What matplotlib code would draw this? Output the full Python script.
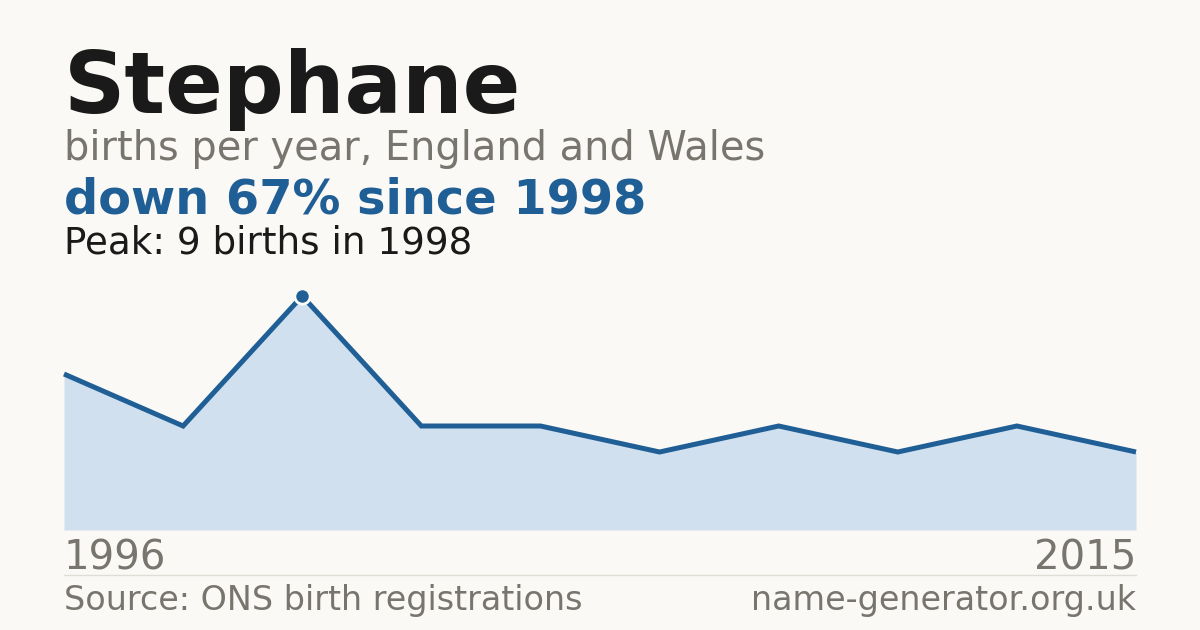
import matplotlib
matplotlib.use("Agg")
import matplotlib.pyplot as plt
import numpy as np

years = [1996, 1997, 1998, 1999, 2001, 2004, 2006, 2009, 2012, 2015]
births = [6, 4, 9, 4, 4, 3, 4, 3, 4, 3]

name = "Stephane"
subtitle = "births per year, England and Wales"
change_text = "down 67% since 1998"
peak_text = "Peak: 9 births in 1998"
source = "Source: ONS birth registrations"
site = "name-generator.org.uk"

bg = "#faf9f5"
blue = "#1f5f96"
fill_col = "#d0e0ef"
grey = "#78746e"
dark = "#1a1a1a"

W, H = 1200, 630
fig = plt.figure(figsize=(12, 6.3), dpi=100, facecolor=bg)

def fx(px):
    return px / W

def fy(py):
    return 1 - py / H

# chart area
ax = fig.add_axes([fx(64), fy(530), fx(1136) - fx(64), (530 - 296) / H])
ax.set_facecolor(bg)
idx = np.arange(len(years))
ax.fill_between(idx, births, 0, color=fill_col, lw=0)
ax.plot(idx, births, color=blue, lw=3.6, solid_joinstyle="miter",
        solid_capstyle="butt", clip_on=False)
peak = int(np.argmax(births))
ax.plot(idx[peak], births[peak], "o", ms=11, color=blue, mec=bg, mew=2,
        clip_on=False, zorder=5)
ax.set_xlim(0, len(years) - 1)
ax.set_ylim(0, max(births))
ax.axis("off")

# titles
fig.text(fx(64), fy(113), name, fontsize=61.4, fontweight="bold", color=dark,
         va="baseline", ha="left")
fig.text(fx(64), fy(160), subtitle, fontsize=28.7, color=grey,
         va="baseline", ha="left")
fig.text(fx(64), fy(214), change_text, fontsize=34.5, fontweight="bold",
         color=blue, va="baseline", ha="left")
fig.text(fx(64), fy(254), peak_text, fontsize=26.8, color=dark,
         va="baseline", ha="left")

# axis end labels
fig.text(fx(64), fy(570), str(years[0]), fontsize=29, color=grey,
         va="baseline", ha="left")
fig.text(fx(1136), fy(570), str(years[-1]), fontsize=29, color=grey,
         va="baseline", ha="right")

# separator
fig.add_artist(plt.Line2D([fx(64), fx(1136)], [fy(574.5), fy(574.5)],
                          color="#e0ddd6", lw=1))

# footer
fig.text(fx(64), fy(610), source, fontsize=24, color=grey,
         va="baseline", ha="left")
fig.text(fx(1136), fy(610), site, fontsize=24, color=grey,
         va="baseline", ha="right")

fig.savefig("out.png", dpi=100, facecolor=bg)
